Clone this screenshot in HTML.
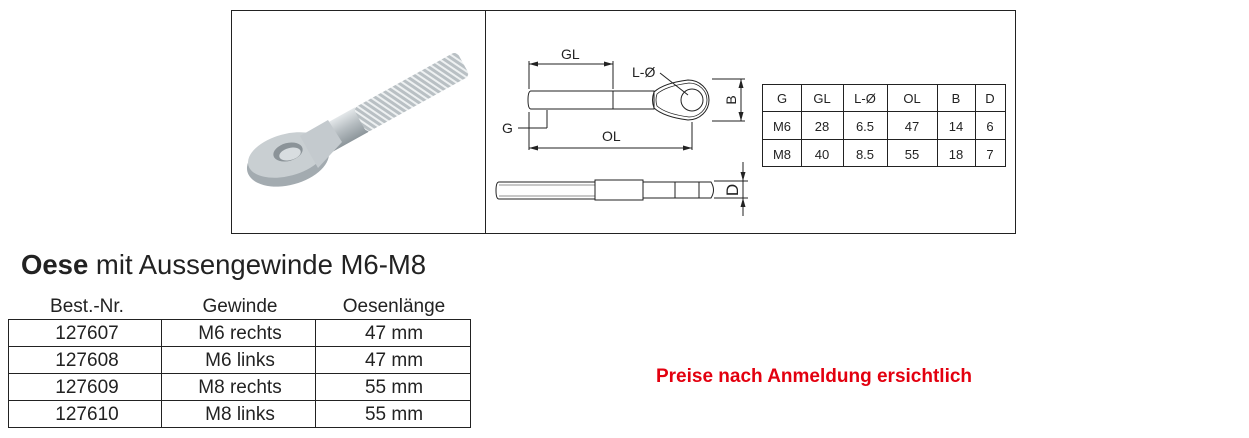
<!DOCTYPE html>
<html><head><meta charset="utf-8"><style>
body{margin:0;width:1249px;height:438px;background:#fff;position:relative;overflow:hidden;font-family:"Liberation Sans",Arial,sans-serif}
</style></head><body>
<svg width="1249" height="438" style="position:absolute;left:0;top:0" font-family="Liberation Sans, Arial, sans-serif">
<defs>
<linearGradient id="rod" x1="0" y1="0" x2="0" y2="1"><stop offset="0" stop-color="#e4e8ea"/><stop offset="0.5" stop-color="#b5bcc0"/><stop offset="1" stop-color="#8d969b"/></linearGradient>
<pattern id="thr" width="5" height="10" patternUnits="userSpaceOnUse" patternTransform="rotate(-27)"><rect width="5" height="10" fill="#b9c0c4"/><rect width="2" height="10" fill="#eef1f2"/></pattern>
</defs>
<rect x="231.5" y="10.5" width="784" height="223" fill="none" stroke="#222"/>
<line x1="485.5" y1="10" x2="485.5" y2="233" stroke="#222"/>
<!-- photo -->
<g transform="translate(325,140) rotate(-29)">
<rect x="0" y="-14" width="42" height="28" fill="url(#rod)"/>
<rect x="40" y="-14" width="118" height="28" rx="5" fill="url(#thr)"/>
</g>
<ellipse cx="288" cy="161" rx="42" ry="24" fill="#a3abb0" transform="rotate(-15 288 161)"/>
<ellipse cx="287" cy="155" rx="40" ry="21" fill="#c9cfd2" transform="rotate(-15 287 155)"/>
<path d="M300 136 L328 120 L342 142 L318 168 Z" fill="#c4cace"/>
<ellipse cx="288" cy="152" rx="15" ry="9" fill="#8b9398" transform="rotate(-15 288 152)"/>
<ellipse cx="290" cy="154" rx="11" ry="6" fill="#d8dde0" transform="rotate(-15 290 154)"/>
<!-- top view -->
<g stroke="#222" fill="none" stroke-width="1">
<path d="M531 91 H613 V109 H531 Q528 109 528 100 Q528 91 531 91Z"/>
<rect x="613" y="91" width="41" height="18"/>
<path d="M654 92 Q664 83 688 80 A21 20 0 1 1 688 120 Q664 117 654 108 Q651 100 654 92Z"/>
<path d="M657 94 Q666 86 689 83 A18 17 0 1 1 689 117 Q666 114 657 106 Q655 100 657 94Z" stroke-width="0.8"/>
<circle cx="692" cy="100" r="11"/>
<line x1="529" y1="61" x2="529" y2="89"/><line x1="613" y1="61" x2="613" y2="89"/>
<line x1="529" y1="64" x2="613" y2="64"/>
<line x1="529" y1="112" x2="529" y2="150"/><line x1="692" y1="122" x2="692" y2="150"/>
<line x1="529" y1="148" x2="692" y2="148"/>
<line x1="547" y1="110" x2="547" y2="128"/><line x1="547" y1="128" x2="518" y2="128"/>
<line x1="660" y1="73" x2="688" y2="95"/>
<line x1="712" y1="79" x2="745" y2="79"/><line x1="712" y1="121" x2="745" y2="121"/>
<line x1="741" y1="79" x2="741" y2="121"/>
<!-- side view -->
<path d="M499 182 H595 V199 H499 Q496 199 496 190.5 Q496 182 499 182Z"/>
<line x1="499" y1="185" x2="595" y2="185" stroke-width="0.6"/>
<line x1="499" y1="196" x2="595" y2="196" stroke-width="0.6"/>
<rect x="595" y="180" width="48" height="20"/>
<path d="M643 182 H711 Q716 190 711 198 H643Z"/>
<line x1="675" y1="182" x2="675" y2="198"/><line x1="699" y1="182" x2="699" y2="198"/>
<line x1="714" y1="181" x2="748" y2="181"/><line x1="714" y1="198" x2="748" y2="198"/>
<line x1="743" y1="162" x2="743" y2="216"/>
</g>
<g fill="#222">
<path d="M529 64 l9 -2.5 v5z"/><path d="M613 64 l-9 -2.5 v5z"/>
<path d="M529 148 l9 -2.5 v5z"/><path d="M692 148 l-9 -2.5 v5z"/>
<path d="M741 79 l-2.5 9 h5z"/><path d="M741 121 l-2.5 -9 h5z"/>
<path d="M743 181 l-2.5 -9 h5z"/><path d="M743 198 l-2.5 9 h5z"/>
</g>
<g font-size="14" fill="#222">
<text x="561" y="59">GL</text>
<text x="632" y="77">L-Ø</text>
<text x="502" y="133">G</text>
<text x="602" y="141">OL</text>
<text transform="translate(736,100) rotate(-90)" text-anchor="middle">B</text>
<text transform="translate(738,190) rotate(-90)" text-anchor="middle" font-size="17">D</text>
</g>
<!-- small table -->
<g stroke="#222" fill="none">
<rect x="762.5" y="84.5" width="243" height="82"/>
<line x1="762" y1="111.5" x2="1006" y2="111.5"/><line x1="762" y1="139.5" x2="1006" y2="139.5"/>
<line x1="801.5" y1="84" x2="801.5" y2="167"/><line x1="843.5" y1="84" x2="843.5" y2="167"/>
<line x1="887.5" y1="84" x2="887.5" y2="167"/><line x1="937.5" y1="84" x2="937.5" y2="167"/>
<line x1="975.5" y1="84" x2="975.5" y2="167"/>
</g>
<g font-size="13" fill="#222" text-anchor="middle">
<text x="782" y="103">G</text><text x="822" y="103">GL</text><text x="865" y="103">L-Ø</text><text x="912" y="103">OL</text><text x="956" y="103">B</text><text x="990" y="103">D</text>
<text x="782" y="131">M6</text><text x="822" y="131">28</text><text x="865" y="131">6.5</text><text x="912" y="131">47</text><text x="956" y="131">14</text><text x="990" y="131">6</text>
<text x="782" y="159">M8</text><text x="822" y="159">40</text><text x="865" y="159">8.5</text><text x="912" y="159">55</text><text x="956" y="159">18</text><text x="990" y="159">7</text>
</g>
<!-- order table -->
<g stroke="#222" fill="none">
<path d="M8 319.5 H470 M8 346.5 H470 M8 373.5 H470 M8 400.5 H470 M8 427.5 H470"/>
<path d="M8.5 319 V428 M161.5 319 V428 M315.5 319 V428 M470.5 319 V428"/>
</g>
<g font-size="19" fill="#222" text-anchor="middle">
<text x="87" y="312">Best.-Nr.</text><text x="240" y="312">Gewinde</text><text x="394" y="312">Oesenlänge</text>
<text x="87" y="339">127607</text><text x="240" y="339">M6 rechts</text><text x="394" y="339">47 mm</text>
<text x="87" y="366">127608</text><text x="240" y="366">M6 links</text><text x="394" y="366">47 mm</text>
<text x="87" y="393">127609</text><text x="240" y="393">M8 rechts</text><text x="394" y="393">55 mm</text>
<text x="87" y="420">127610</text><text x="240" y="420">M8 links</text><text x="394" y="420">55 mm</text>
</g>
<text x="21" y="274" font-size="27.5" fill="#222"><tspan font-weight="bold">Oese</tspan> mit Aussengewinde M6-M8</text>
<text x="814" y="382" font-size="19" font-weight="bold" fill="#e3000f" text-anchor="middle">Preise nach Anmeldung ersichtlich</text>
</svg>
</body></html>
